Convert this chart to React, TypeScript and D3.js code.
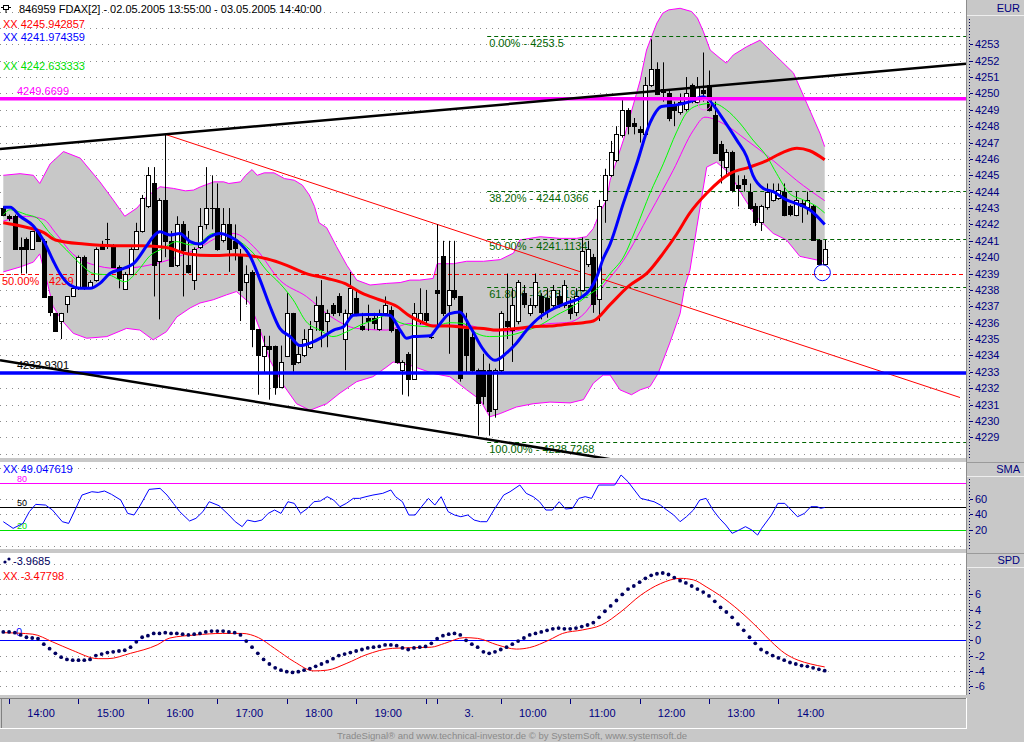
import React from 'react';
import * as d3 from 'd3';

// ---- price bars (5 min) ----
const opens = [
  4243.0, 4242.5, 4242.5, 4240.6, 4241.1, 4240.5, 4241.6, 4241.0, 4237.6, 4236.6,
  4236.1, 4237.1, 4237.6, 4238.1, 4240.0, 4238.2, 4238.6, 4240.7, 4241.1, 4240.7,
  4239.4, 4238.1, 4239.0, 4240.5, 4241.6, 4243.1, 4244.5, 4239.8, 4243.5, 4241.0,
  4239.5, 4242.0, 4239.5, 4238.6, 4240.6, 4242.0, 4243.0, 4243.0, 4241.05, 4242.0,
  4241.0, 4240.1, 4238.5, 4239.1, 4235.6, 4234.0, 4234.6, 4234.6, 4232.1, 4234.0,
  4236.6, 4233.6, 4234.0, 4234.5, 4236.1, 4237.1, 4236.1, 4237.1, 4237.6, 4235.0,
  4236.6, 4237.5, 4235.8, 4236.3, 4236.3, 4235.6, 4236.6, 4236.8, 4235.6, 4233.1,
  4234.1, 4232.6, 4236.1, 4236.6, 4235.15, 4238.0, 4240.1, 4237.1, 4238.0, 4237.6,
  4235.6, 4235.1, 4233.1, 4233.1, 4233.1, 4230.7, 4233.1, 4236.1, 4235.6, 4236.1,
  4237.8, 4236.6, 4237.1, 4237.6, 4237.5, 4237.1, 4237.6, 4237.1, 4237.1, 4236.6,
  4238.0, 4239.6, 4240.0, 4237.4, 4243.5, 4245.0, 4245.9, 4247.5, 4249.0, 4248.2,
  4247.8, 4247.5, 4250.5, 4251.5, 4250.3, 4250.0, 4249.3, 4248.9, 4249.0, 4250.5,
  4249.5, 4250.2, 4250.5, 4248.7, 4246.9, 4245.5, 4246.4, 4244.4, 4244.8, 4244.0,
  4243.1, 4242.1, 4243.1, 4243.5, 4243.6, 4244.0, 4243.1, 4242.6, 4243.3, 4243.1,
  4243.1, 4241.05, 4239.6,
];
const highs = [
  4243.1, 4242.6, 4242.6, 4241.2, 4241.2, 4241.6, 4241.6, 4241.1, 4237.6, 4236.6,
  4236.6, 4237.6, 4238.2, 4240.1, 4240.1, 4238.6, 4240.6, 4241.0, 4242.1, 4240.8,
  4239.5, 4239.1, 4240.6, 4242.1, 4243.8, 4245.5, 4245.5, 4243.6, 4247.5, 4241.6,
  4242.5, 4242.2, 4241.6, 4240.6, 4243.0, 4245.5, 4245.0, 4244.5, 4243.0, 4243.0,
  4242.0, 4240.5, 4239.5, 4239.2, 4235.6, 4235.2, 4235.2, 4234.6, 4234.6, 4237.8,
  4236.6, 4234.6, 4235.6, 4236.1, 4237.6, 4238.6, 4236.8, 4237.2, 4237.8, 4236.8,
  4239.1, 4238.0, 4236.6, 4237.1, 4236.6, 4236.8, 4237.6, 4237.0, 4235.6, 4233.7,
  4234.2, 4237.2, 4238.1, 4238.0, 4235.2, 4242.0, 4241.0, 4241.0, 4241.0, 4237.6,
  4236.6, 4235.5, 4233.2, 4234.1, 4233.5, 4233.2, 4236.7, 4239.0, 4238.1, 4238.6,
  4238.3, 4237.5, 4239.0, 4237.8, 4238.1, 4238.3, 4238.0, 4238.6, 4237.5, 4238.1,
  4241.2, 4241.0, 4240.2, 4243.5, 4245.4, 4247.1, 4248.0, 4249.6, 4249.1, 4248.5,
  4248.0, 4251.0, 4253.3, 4251.9, 4251.9, 4250.2, 4249.5, 4250.0, 4251.0, 4250.6,
  4251.0, 4252.5, 4251.4, 4249.5, 4247.1, 4246.6, 4246.5, 4245.0, 4245.0, 4244.5,
  4243.3, 4243.2, 4244.5, 4244.5, 4244.5, 4244.5, 4243.2, 4244.0, 4243.5, 4244.0,
  4243.2, 4241.1, 4241.05,
];
const lows = [
  4242.5, 4242.2, 4240.5, 4239.0, 4239.0, 4240.5, 4241.0, 4237.6, 4236.4, 4235.5,
  4235.0, 4236.6, 4237.6, 4238.0, 4238.0, 4238.1, 4238.5, 4240.5, 4240.5, 4239.4,
  4238.1, 4238.0, 4239.0, 4240.5, 4241.5, 4243.0, 4237.6, 4236.2, 4240.0, 4239.4,
  4239.4, 4237.6, 4239.0, 4238.0, 4240.5, 4241.7, 4241.7, 4240.4, 4240.9, 4239.1,
  4239.8, 4236.1, 4237.1, 4234.5, 4231.6, 4232.9, 4231.3, 4231.6, 4232.0, 4233.9,
  4233.0, 4233.5, 4233.9, 4234.4, 4235.5, 4234.5, 4234.5, 4236.4, 4236.4, 4233.1,
  4236.4, 4236.4, 4235.5, 4235.5, 4235.6, 4235.5, 4236.4, 4235.4, 4233.5, 4231.6,
  4231.5, 4232.5, 4235.9, 4235.9, 4235.0, 4235.8, 4236.4, 4234.1, 4237.4, 4232.4,
  4232.9, 4233.0, 4229.1, 4231.0, 4229.1, 4230.2, 4232.9, 4235.0, 4233.6, 4235.9,
  4236.9, 4236.4, 4236.9, 4236.2, 4236.3, 4236.9, 4236.9, 4236.9, 4236.2, 4236.4,
  4237.9, 4239.4, 4236.6, 4236.1, 4242.1, 4244.9, 4245.8, 4247.3, 4247.5, 4247.5,
  4247.0, 4247.4, 4250.4, 4249.9, 4249.5, 4248.3, 4248.0, 4248.7, 4248.9, 4249.4,
  4249.4, 4249.5, 4248.9, 4246.3, 4244.5, 4245.0, 4244.0, 4243.1, 4244.0, 4242.9,
  4241.9, 4241.6, 4242.9, 4243.4, 4243.5, 4242.5, 4242.5, 4242.5, 4242.1, 4242.6,
  4241.0, 4239.5, 4239.5,
];
const closes = [
  4242.6, 4242.4, 4240.5, 4240.5, 4240.5, 4241.6, 4241.0, 4237.6, 4236.6, 4235.5,
  4236.6, 4237.6, 4238.1, 4240.0, 4238.2, 4238.5, 4240.5, 4240.5, 4241.05, 4239.4,
  4238.7, 4239.0, 4240.5, 4241.6, 4243.6, 4245.0, 4239.5, 4243.5, 4241.0, 4239.5,
  4242.0, 4240.4, 4239.1, 4240.5, 4241.9, 4243.0, 4242.95, 4240.5, 4242.0, 4240.5,
  4240.6, 4238.0, 4239.0, 4235.6, 4234.0, 4234.6, 4234.4, 4232.1, 4233.6, 4236.6,
  4233.5, 4234.1, 4235.0, 4235.6, 4237.1, 4235.6, 4236.6, 4236.6, 4236.6, 4236.6,
  4238.1, 4236.6, 4235.6, 4236.1, 4236.0, 4236.6, 4237.1, 4235.6, 4233.6, 4233.6,
  4232.6, 4236.6, 4236.6, 4236.2, 4235.1, 4237.8, 4236.6, 4238.0, 4237.6, 4232.6,
  4234.0, 4233.1, 4231.1, 4231.5, 4230.6, 4233.1, 4236.6, 4235.8, 4237.1, 4238.5,
  4237.1, 4237.1, 4238.5, 4236.6, 4236.7, 4238.0, 4237.1, 4238.3, 4236.6, 4237.6,
  4240.4, 4240.5, 4237.1, 4243.1, 4245.0, 4246.4, 4247.5, 4249.0, 4248.0, 4248.0,
  4247.6, 4250.5, 4251.5, 4250.0, 4250.1, 4248.5, 4249.0, 4249.5, 4250.0, 4249.5,
  4250.4, 4250.0, 4249.0, 4246.4, 4245.9, 4246.4, 4244.1, 4244.2, 4244.5, 4243.0,
  4242.1, 4243.1, 4244.0, 4244.0, 4244.1, 4242.6, 4242.6, 4243.5, 4243.1, 4243.5,
  4241.05, 4239.6, 4240.5,
];

// ---- overlays, [bar, price] ----
const redMa = [
  [0, 4242.1], [3, 4241.9], [7, 4241.5], [9, 4241.05], [14, 4240.8], [19, 4240.7], [24, 4240.7],
  [28, 4240.6], [32, 4240.2], [36, 4240.1], [40, 4240.15], [45.5, 4239.9], [49, 4239.5],
  [52.4, 4239.0], [56, 4238.7], [59, 4238.4], [62, 4237.8], [65, 4237.4], [68, 4237.0],
  [70.3, 4236.4], [72, 4236.1], [74.3, 4235.8], [77, 4235.8], [80, 4235.7], [83, 4235.65],
  [85.3, 4235.55], [88.7, 4235.65], [91.6, 4235.75], [94.5, 4235.8], [97.4, 4235.9],
  [100.3, 4236.0], [102, 4236.1], [104.9, 4237.1], [108, 4238.2], [111.5, 4239.1],
  [114, 4240.2], [116.4, 4241.4], [118.7, 4242.7], [121.6, 4243.9], [125.6, 4245.1],
  [129, 4245.5], [132, 4245.9], [134.8, 4246.4], [137.2, 4246.65], [139.4, 4246.5], [142, 4245.95],
];
const blueMa = [
  [0, 4243.05], [1.2, 4243.05], [2.9, 4242.5], [5.2, 4241.9], [6.9, 4241.05], [8.6, 4239.8],
  [9.8, 4239.0], [11.5, 4238.3], [13.3, 4238.1], [15, 4238.1], [16.7, 4238.4], [18.4, 4239.0],
  [20.7, 4239.3], [22.5, 4239.6], [24.8, 4240.7], [25.9, 4241.25], [27.1, 4241.55], [28.8, 4241.35],
  [30.5, 4241.45], [32.3, 4240.95], [34, 4240.8], [35.7, 4241.25], [37.5, 4241.45], [39.2, 4241.25],
  [40.9, 4240.85], [42.6, 4240.1], [44.4, 4238.6], [46.1, 4237.0], [47.8, 4235.65], [49.6, 4235.15],
  [51.3, 4234.6], [53, 4234.75], [55.3, 4235.15], [57.1, 4235.55], [58.8, 4235.75], [60.5, 4236.45],
  [62.8, 4236.5], [65.1, 4236.5], [66.8, 4236.45], [68.6, 4235.55], [69.7, 4235.05], [70.9, 4235.15],
  [73.8, 4235.2], [74.9, 4235.65], [77.2, 4236.55], [78.9, 4236.65], [80.7, 4235.75], [83, 4234.35],
  [85, 4233.7], [87, 4234.15], [88.7, 4234.75], [90.5, 4235.55], [92.8, 4236.35], [95.1, 4236.85],
  [97.4, 4237.2], [99.7, 4237.5], [101.4, 4238.0], [102.6, 4238.8], [103.7, 4239.9], [104.9, 4240.8],
  [107.2, 4243.3], [109.5, 4245.7], [111.8, 4248.2], [113.8, 4249.2], [116.4, 4249.3], [118.7, 4249.5],
  [121, 4249.8], [122.7, 4249.3], [124.5, 4248.4], [126.8, 4247.15], [128.5, 4246.15], [129.6, 4245.0],
  [131.4, 4244.2], [133.1, 4244.0], [135.4, 4243.5], [137.7, 4243.2], [139.4, 4242.9], [142, 4242.0],
];
const greenMa = [
  [0, 4242.6], [1.2, 4242.9], [4, 4242.6], [5.8, 4242.4], [8.1, 4241.45], [10.9, 4240.45],
  [13.3, 4239.6], [15.6, 4239.0], [18.4, 4238.9], [21, 4238.5], [23.1, 4239.1], [25.4, 4240.1],
  [27.7, 4240.55], [30, 4240.95], [32.3, 4240.75], [34, 4240.9], [36.3, 4241.45], [38.6, 4241.35],
  [40.9, 4240.95], [43.2, 4240.25], [45.5, 4239.2], [47.8, 4238.4], [50.1, 4237.4], [52.4, 4236.05],
  [54.7, 4235.55], [57, 4235.15], [59.4, 4235.45], [61.7, 4235.85], [64, 4236.15], [66.3, 4236.45],
  [68.6, 4236.0], [71.5, 4235.8], [74.3, 4235.75], [77.2, 4236.0], [79.5, 4235.95], [81.8, 4235.35],
  [84.1, 4235.15], [87, 4235.2], [89.9, 4235.45], [92.8, 4235.85], [95.6, 4236.45], [98.5, 4237.0],
  [100.8, 4237.6], [103.1, 4238.2], [104.9, 4239.0], [107.2, 4240.0], [109.5, 4241.85], [111.8, 4243.9],
  [114.1, 4245.7], [116.4, 4247.65], [118.1, 4248.8], [120.4, 4249.3], [122.7, 4249.4], [125, 4249.0],
  [127.3, 4248.2], [129.6, 4247.15], [132, 4246.15], [133.7, 4245.1], [135.9, 4243.9], [138.3, 4243.5],
  [140.6, 4243.1], [142, 4242.7],
];
const midBand = [
  [0, 4242.2], [4, 4242.5], [7, 4242.3], [9, 4241.5], [12, 4240.2], [15, 4239.6], [20, 4239.3],
  [25, 4239.5], [30, 4240.0], [34, 4240.6], [37, 4241.2], [39.8, 4241.45], [43.8, 4240.45],
  [47.8, 4238.6], [52.4, 4237.6], [56.5, 4236.4], [61.1, 4235.65], [66.3, 4235.55], [70.3, 4235.95],
  [74.3, 4235.85], [80.1, 4235.85], [83.6, 4235.55], [87.6, 4235.45], [91.6, 4235.75], [94.5, 4235.95],
  [97.4, 4236.0], [100.8, 4236.7], [103.1, 4237.95], [107.2, 4239.8], [111.8, 4242.7], [115.8, 4245.3],
  [119.3, 4247.75], [121.3, 4248.55], [124.5, 4248.15], [128.5, 4247.15], [133.1, 4245.9],
  [137.1, 4244.7], [142, 4243.45],
];
const upperBand = [
  [0, 4245.0], [2.9, 4245.1], [5.2, 4245.0], [6.3, 4244.5], [8.1, 4245.7], [10.4, 4246.45],
  [13.3, 4246.05], [16.7, 4244.6], [19, 4243.5], [21, 4242.5], [23.1, 4243.0], [24.8, 4243.7],
  [27.1, 4244.3], [29.4, 4244.2], [31.5, 4244.05], [32.9, 4244.1], [34.1, 4244.3], [36.4, 4244.6],
  [38.1, 4244.6], [39, 4244.5], [41, 4244.6], [41.9, 4245.0], [43, 4245.35], [43.9, 4245.0],
  [45.1, 4245.15], [46.8, 4245.15], [48.6, 4244.8], [50.3, 4244.7], [51.7, 4244.4], [52.9, 4243.8],
  [53.8, 4243.1], [54.6, 4242.1], [55.9, 4241.8], [57.6, 4240.65], [59.4, 4239.5], [61.1, 4238.6],
  [63.4, 4238.3], [66.3, 4238.4], [68.6, 4238.45], [70.3, 4238.6], [72, 4238.6], [74.3, 4238.7],
  [75, 4239.6], [77.8, 4239.6], [80.1, 4239.75], [83, 4239.75], [85.9, 4239.85], [88.2, 4240.25],
  [89.3, 4241.05], [92.8, 4241.25], [96.2, 4241.15], [99.1, 4241.15], [100.8, 4241.25], [102, 4241.75],
  [103.1, 4242.7], [104.3, 4243.5], [104.9, 4244.7], [107.2, 4247.15], [110.1, 4250.8], [111.2, 4252.65],
  [112, 4253.4], [113, 4254.3], [114, 4254.9], [115, 4255.1], [117, 4255.2], [119, 4255.0],
  [120, 4254.6], [121, 4253.8], [122.2, 4252.65], [123.9, 4252.15], [125, 4251.85], [126.2, 4252.35],
  [128.5, 4252.85], [130.8, 4253.25], [133.7, 4252.25], [136.6, 4251.25], [138.9, 4249.4],
  [141.2, 4247.55], [142, 4246.75],
];
const lowerBand = [
  [0, 4239.1], [2.9, 4239.4], [5.2, 4239.7], [6.3, 4240.2], [7.5, 4238.6], [8.6, 4237.0],
  [10.1, 4236.15], [12.1, 4235.35], [14.4, 4235.05], [17.9, 4235.15], [21.3, 4235.65], [23.6, 4235.55],
  [25.9, 4234.95], [28.2, 4235.45], [30, 4236.35], [32.3, 4236.9], [34, 4237.2], [36.3, 4237.4],
  [38.6, 4237.7], [40.3, 4237.9], [42.6, 4237.2], [44.4, 4235.55], [46.1, 4233.7], [48.4, 4232.2],
  [50.7, 4231.05], [53, 4230.65], [55.9, 4231.05], [58.2, 4231.7], [61.1, 4232.4], [63.9, 4232.7],
  [66.3, 4233.3], [67.4, 4233.6], [70.3, 4233.4], [74.3, 4232.9], [77.2, 4232.7], [80.1, 4231.9],
  [82.4, 4231.3], [84.1, 4230.25], [85.9, 4230.45], [88.7, 4230.85], [91.6, 4231.05], [94.5, 4231.15],
  [98, 4231.1], [100.3, 4231.3], [102, 4232.3], [103.7, 4232.8], [104.9, 4232.8], [106.6, 4231.9],
  [108.6, 4231.6], [110.1, 4231.9], [111.8, 4232.1], [113.2, 4232.9], [115.2, 4234.75], [117, 4236.55],
  [117.8, 4238.2], [118.7, 4239.2], [119.9, 4241.85], [121.6, 4245.5], [123.3, 4245.8], [125.6, 4245.1],
  [127.9, 4243.7], [130.2, 4242.45], [133.1, 4241.45], [135.4, 4241.05], [137.7, 4240.05],
  [141.7, 4239.75], [142, 4239.75],
];

const upperTrend = [[28, 4247.5], [121, 4250.4]];
const lowerTrend = [[51, 4230.75], [84, 4228.86]];
const redTrend = [[28, 4247.5], [140, 4234.4]];

const fibPercents = ['0.00%', '38.20%', '50.00%', '61.80%', '100.00%'];
const fibValues = [4253.5, 4244.0366, 4241.1134, 4238.1902, 4228.7268];
const fibStartBar = 84;

const resistance = 4249.6699;
const support = 4232.9301;
const halfLevel = 4239;
const lastLow = [141.6, 4239.05];
const peakMark = [121.2, 4249.3];

const priceTicks = d3.range(4229, 4254);
const priceGrid = d3.range(4228, 4256);

// ---- SMA oscillator ----
const smaLine = [
  [0, 30.7], [1.7, 22.1], [3.4, 28.5], [4.5, 43.6], [5.6, 53], [7.3, 52.1], [8.5, 45.7], [10.2, 30.7],
  [11.3, 28.5], [12.4, 45.7], [13.6, 65], [15.3, 69.3], [16.4, 68.4], [17.5, 70.2], [18.7, 65.9],
  [20.3, 58.6], [21.5, 41.4], [22.6, 39.3], [23.7, 52.1], [25.2, 72.3], [27.1, 73.6], [28.3, 65],
  [29.4, 54.3], [30.5, 43.6], [32.2, 31.6], [33.3, 35], [34.5, 43.6], [35.6, 56.4], [37.3, 51.3],
  [39, 39.3], [40.1, 30.7], [41.3, 24.3], [42.2, 32.8], [43.5, 30.7], [44.7, 32.8], [45.8, 41.4],
  [46.9, 45.7], [48, 41.4], [49.2, 56.4], [50.3, 54.3], [51.4, 41.4], [52.6, 47.9], [53.7, 56.4],
  [54.8, 57.3], [56, 62.9], [57.1, 58.6], [58.2, 50], [59.3, 54.3], [60.5, 60.7], [61.6, 60.7],
  [62.7, 62.9], [63.9, 65], [65.6, 67.2], [67, 71.5], [67.8, 62.9], [69, 56.4], [70.1, 39.3],
  [71.2, 39.3], [72.3, 50], [73.5, 60.7], [74.6, 52.1], [75.7, 62.9], [76.9, 43.6], [78, 39.3],
  [79.1, 37.1], [80.3, 39.3], [81.4, 32.8], [82.5, 30.7], [83.6, 30.7], [84.8, 45.7], [86.5, 65],
  [87.6, 69.3], [89.3, 77.9], [90.4, 67.2], [91.6, 62.9], [92.7, 56.4], [93.8, 45.7], [94.9, 45.7],
  [96.1, 56.4], [97.2, 47], [98.4, 47.9], [99.5, 60.7], [100.6, 62.9], [101.7, 60.7], [102.9, 77.9],
  [105.7, 77.9], [106.8, 90.8], [108, 82.2], [109.1, 71.5], [110.2, 60.7], [112.5, 56.4], [113.6, 52.1],
  [114.7, 45.7], [115.9, 39.3], [117, 30.7], [118.1, 37.1], [119.3, 45.7], [120.4, 58.6], [121.5, 60.7],
  [122.7, 45.7], [123.8, 35], [124.9, 26.4], [126, 15.7], [127.2, 20], [128.3, 24.3], [129.4, 20],
  [130.4, 13.5], [131.1, 22.1], [132.8, 39.3], [133.9, 54.3], [135.1, 54.3], [136.2, 45.7],
  [137.3, 37.1], [138.5, 41.4], [139.6, 50], [140.7, 50], [141.3, 47.9], [142, 49.05],
];
const smaLevels = [80, 50, 20];
const smaLevelColors = ['#ff00ff', '#000000', '#00e000'];
const smaGrid = [100, 60, 40, 0];
const smaTicks = [60, 40, 20];

// ---- SPD ----
const spdDots = [
  1.1, 1.1, 1.0, 0.7, 0.4, 0.3, 0.2, -0.5, -1.1, -1.7,
  -2.2, -2.5, -2.6, -2.6, -2.6, -2.5, -2.0, -1.8, -1.6, -1.5,
  -1.4, -1.3, -0.9, -0.2, 0.4, 0.6, 0.9, 0.9, 1.0, 0.9,
  0.9, 0.8, 0.7, 0.8, 0.9, 1.1, 1.2, 1.2, 1.2, 1.1,
  1.0, 0.7, -0.1, -0.9, -1.7, -2.5, -3.1, -3.6, -3.9, -4.1,
  -4.2, -4.1, -3.9, -3.7, -3.4, -3.1, -2.8, -2.4, -2.0, -1.8,
  -1.6, -1.4, -1.2, -1.0, -0.9, -0.8, -0.6, -0.6, -0.7, -1.0,
  -1.2, -1.0, -0.9, -0.8, -0.4, 0.2, 0.6, 0.8, 0.9, 0.7,
  0.0, -0.5, -0.9, -1.5, -1.7, -1.5, -1.2, -0.9, -0.5, -0.1,
  0.3, 0.7, 0.9, 1.1, 1.3, 1.5, 1.6, 1.5, 1.5, 1.6,
  1.8, 2.0, 2.3, 3.0, 3.8, 4.5, 5.2, 6.0, 6.7, 7.1,
  7.6, 8.1, 8.5, 8.7, 8.8, 8.6, 8.2, 7.8, 7.5, 7.1,
  6.7, 6.3, 5.8, 5.1, 4.3, 3.7, 3.0, 2.1, 1.3, 0.4,
  -0.4, -1.2, -1.6, -2.0, -2.3, -2.6, -2.9, -3.1, -3.3, -3.4,
  -3.6, -3.8, -3.97,
];
const spdSignal = [
  [0, 1.0], [5.1, 0.8], [8.5, -0.2], [11.9, -1.3], [16.4, -2.4], [18.1, -2.4], [22, -1.7],
  [26.6, -0.6], [28.8, 0.3], [33.3, 0.7], [37.9, 0.9], [41.3, 0.9], [44.1, 0.35], [46.9, -1.05],
  [50.3, -2.8], [53.7, -4.0], [56, -3.9], [59.4, -3.0], [62.7, -1.9], [67.3, -1.05], [71.8, -0.95],
  [74, -0.9], [76.3, -0.4], [79.7, 0.35], [82, 0.25], [85.4, -0.6], [88.7, -1.15], [91, -0.95],
  [94.4, 0.05], [96.7, 0.9], [100.1, 1.35], [103.4, 2.0], [106.8, 3.75], [110.2, 5.9], [113.6, 7.4],
  [117, 8.1], [119.3, 7.9], [121.5, 7.0], [123.8, 5.9], [127.2, 3.9], [130.6, 1.5], [132.8, -0.2],
  [135.1, -1.7], [137.4, -2.6], [139.6, -3.1], [142, -3.48],
];
const spdGrid = [10, 8, 6, 4, 2, -2, -4, -6];
const spdTicks = [6, 4, 2, 0, -2, -4, -6];

// ---- time axis ----
const timeTickBars = [1, 13, 25, 37, 49, 61, 73, 75, 86, 98, 110, 122, 134];
const timeLabels = ['14:00', '15:00', '16:00', '17:00', '18:00', '19:00', '', '3.', '10:00', '11:00', '12:00', '13:00', '14:00'];

const title = '846959  FDAX[2] - 02.05.2005 13:55:00 - 03.05.2005 14:40:00';
const legendMain = [
  { text: '4245.942857', color: '#ff0000', yy: 27.5 },
  { text: '4241.974359', color: '#0000ff', yy: 41 },
  { text: '4242.633333', color: '#00dd00', yy: 69.5 },
];
const smaLegend = '49.047619';
const spdLegend = ['-3.9685', '-3.47798'];

const FONT = "'Liberation Sans', Arial, sans-serif";
const GRAY = '#c8c8c8';
const PW = 966;

export default function App() {
  const x = d3.scaleLinear().domain([0, 142]).range([3.3, 824.7]);
  const y = d3.scaleLinear().domain([4229, 4253]).range([437.3, 44.3]);
  const ySma = d3.scaleLinear().domain([20, 80]).range([530, 483.4]);
  const ySpd = d3.scaleLinear().domain([-6, 6]).range([686.2, 594.4]);

  const priceLine = (curve) =>
    d3.line().x((d) => x(d[0])).y((d) => y(d[1])).curve(curve);
  const smooth = priceLine(d3.curveMonotoneX);
  const straight = priceLine(d3.curveLinear);

  const bandPath = straight([...upperBand, ...lowerBand.slice().reverse()]) + 'Z';

  const extend = (pts, xFrom, xTo) => {
    const x1 = x(pts[0][0]), y1 = y(pts[0][1]);
    const x2 = x(pts[1][0]), y2 = y(pts[1][1]);
    const k = (y2 - y1) / (x2 - x1);
    return { x1: xFrom, y1: y1 + k * (xFrom - x1), x2: xTo, y2: y1 + k * (xTo - x1) };
  };
  const ut = extend(upperTrend, 0, PW);
  const lt = extend(lowerTrend, 0, PW);
  const rt = extend(redTrend, x(redTrend[0][0]), 960);

  const smaPath = d3.line().x((d) => x(d[0])).y((d) => ySma(d[1]))(smaLine);
  const spdPath = d3.line().x((d) => x(d[0])).y((d) => ySpd(d[1])).curve(d3.curveMonotoneX)(spdSignal);

  const crisp = (v) => Math.round(v) + 0.5;

  return (
    <svg width={1024} height={742} style={{ position: 'absolute', left: 0, top: 0, display: 'block' }}
      fontFamily={FONT}>
      <defs>
        <clipPath id="mainClip"><rect x={0} y={0} width={PW} height={458} /></clipPath>
        <clipPath id="smaClip"><rect x={0} y={462} width={PW} height={87} /></clipPath>
        <clipPath id="spdClip"><rect x={0} y={553} width={PW} height={142} /></clipPath>
      </defs>
      <rect x={0} y={0} width={1024} height={742} fill={GRAY} />

      {/* ===== main panel ===== */}
      <rect x={0} y={0} width={PW} height={458} fill="#fff" />
      <g clipPath="url(#mainClip)">
        {priceGrid.map((p) => (
          <line key={p} x1={0} x2={PW} y1={crisp(y(p))} y2={crisp(y(p))} stroke="#8c8c8c" strokeDasharray="1,5" />
        ))}
        <path d={bandPath} fill={GRAY} stroke="none" />
        <path d={straight(upperBand)} fill="none" stroke="#ff00ff" strokeWidth={1} />
        <path d={straight(lowerBand)} fill="none" stroke="#ff00ff" strokeWidth={1} />
        <path d={smooth(midBand)} fill="none" stroke="#ff00ff" strokeWidth={1} />

        <line x1={0} x2={PW} y1={crisp(y(halfLevel))} y2={crisp(y(halfLevel))} stroke="#ff0000" strokeDasharray="4,3" />
        {fibValues.map((v, i) => (
          <line key={i} x1={x(fibStartBar) - 2} x2={PW} y1={crisp(y(v))} y2={crisp(y(v))} stroke="#006400" strokeDasharray="4,3" />
        ))}
        {fibValues.map((v, i) => (
          <text key={i} x={x(fibStartBar)} y={y(v) + 11} fontSize={11} fill="#006400">
            {fibPercents[i]} - {v}
          </text>
        ))}
        <text x={2} y={y(halfLevel) + 11.5} fontSize={11} fill="#ff0000">50.00% - {halfLevel}</text>

        <line {...rt} stroke="#ff0000" strokeWidth={1} />

        {opens.map((o, i) => {
          const c = closes[i];
          const cx = crisp(x(i));
          const top = y(Math.max(o, c));
          const bot = y(Math.min(o, c));
          const up = c >= o;
          return (
            <g key={i}>
              <line x1={cx} x2={cx} y1={y(highs[i])} y2={y(lows[i])} stroke="#000" strokeWidth={1} />
              {bot - top < 1.5 ? (
                <line x1={cx - 2.5} x2={cx + 2.5} y1={crisp(top)} y2={crisp(top)} stroke="#000" />
              ) : (
                <rect x={cx - 2} y={Math.round(top) + 0.5} width={4} height={Math.max(1, Math.round(bot - top))}
                  fill={up ? '#fff' : '#000'} stroke="#000" strokeWidth={1} />
              )}
            </g>
          );
        })}

        <path d={smooth(greenMa)} fill="none" stroke="#00ff00" strokeWidth={1} />
        <path d={smooth(redMa)} fill="none" stroke="#ff0000" strokeWidth={3} />
        <path d={smooth(blueMa)} fill="none" stroke="#0000ff" strokeWidth={3} />

        <line x1={0} x2={PW} y1={y(resistance)} y2={y(resistance)} stroke="#ff00ff" strokeWidth={3.5} />
        <line x1={0} x2={PW} y1={y(support)} y2={y(support)} stroke="#0000ff" strokeWidth={3.5} />
        <line {...ut} stroke="#000" strokeWidth={2.5} />
        <line {...lt} stroke="#000" strokeWidth={2.5} />

        <ellipse cx={x(peakMark[0])} cy={y(peakMark[1])} rx={6} ry={5} fill="none" stroke="#ff66ff" strokeWidth={1} />
        <circle cx={x(lastLow[0])} cy={y(lastLow[1])} r={8} fill="none" stroke="#0000ff" strokeWidth={1} />

        <text x={17} y={y(resistance) - 4} fontSize={11} fill="#ff00ff">{resistance}</text>
        <text x={17} y={y(support) - 4} fontSize={11} fill="#000000">{support}</text>

        {/* legend */}
        <g stroke="#000" fill="none" strokeWidth={1}>
          <rect x={3.5} y={5.5} width={5} height={4} />
          <line x1={6} x2={6} y1={9.5} y2={13} />
          <line x1={1} x2={3.5} y1={7.5} y2={7.5} />
          <line x1={8.5} x2={11} y1={7.5} y2={7.5} />
        </g>
        <text x={19} y={13} fontSize={11} fill="#000">{title}</text>
        {legendMain.map((l, i) => (
          <text key={i} x={3} y={l.yy} fontSize={11} fill={l.color}>XX {l.text}</text>
        ))}
      </g>

      {/* main price axis */}
      <line x1={966.5} x2={966.5} y1={0} y2={695} stroke="#8c8c8c" />
      <line x1={967} x2={1024} y1={15.5} y2={15.5} stroke="#eeeeee" />
      <text x={1020} y={12} fontSize={11} fill="#000080" textAnchor="end">EUR</text>
      <line x1={969.5} x2={969.5} y1={19} y2={458} stroke="#000050" strokeDasharray="1,2" />
      {priceTicks.map((p) => (
        <g key={p}>
          <line x1={970} x2={973} y1={crisp(y(p))} y2={crisp(y(p))} stroke="#000080" />
          <text x={975} y={y(p) + 4} fontSize={11} fill="#000080">{p}</text>
        </g>
      ))}

      {/* ===== SMA panel ===== */}
      <rect x={0} y={462} width={PW} height={87} fill="#fff" />
      <g clipPath="url(#smaClip)">
        {smaGrid.map((v) => (
          <line key={v} x1={0} x2={PW} y1={crisp(ySma(v))} y2={crisp(ySma(v))} stroke="#8c8c8c" strokeDasharray="1,5" />
        ))}
        {smaLevels.map((v, i) => (
          <line key={v} x1={0} x2={PW} y1={crisp(ySma(v))} y2={crisp(ySma(v))} stroke={smaLevelColors[i]} />
        ))}
        {smaLevels.map((v, i) => (
          <text key={v} x={17} y={ySma(v) - 1} fontSize={9} fill={smaLevelColors[i]}>{v}</text>
        ))}
        <path d={smaPath} fill="none" stroke="#0000ff" strokeWidth={1} />
        <text x={3} y={472.5} fontSize={11} fill="#0000ff">XX {smaLegend}</text>
      </g>
      <line x1={967} x2={1024} y1={476.5} y2={476.5} stroke="#eeeeee" />
      <line x1={966} x2={1024} y1={462.5} y2={462.5} stroke="#9a9a9a" />
      <text x={1020} y={473} fontSize={11} fill="#000080" textAnchor="end">SMA</text>
      <line x1={969.5} x2={969.5} y1={479} y2={549} stroke="#000050" strokeDasharray="1,2" />
      {smaTicks.map((v) => (
        <g key={v}>
          <line x1={970} x2={973} y1={crisp(ySma(v))} y2={crisp(ySma(v))} stroke="#000080" />
          <text x={975} y={ySma(v) + 4} fontSize={11} fill="#000080">{v}</text>
        </g>
      ))}

      {/* ===== SPD panel ===== */}
      <rect x={0} y={553} width={PW} height={142} fill="#fff" />
      <g clipPath="url(#spdClip)">
        {spdGrid.map((v) => (
          <line key={v} x1={0} x2={PW} y1={crisp(ySpd(v))} y2={crisp(ySpd(v))} stroke="#8c8c8c" strokeDasharray="1,5" />
        ))}
        <line x1={0} x2={PW} y1={crisp(ySpd(0))} y2={crisp(ySpd(0))} stroke="#0000ff" />
        <text x={16} y={ySpd(0) - 4} fontSize={11} fill="#0000ff">0</text>
        <path d={spdPath} fill="none" stroke="#ff0000" strokeWidth={1} />
        {spdDots.map((v, i) => (
          <circle key={i} cx={x(i)} cy={ySpd(v)} r={1.9} fill="#000060" />
        ))}
        <circle cx={5} cy={562} r={1.6} fill="#000060" />
        <circle cx={9} cy={559} r={1.6} fill="#000060" />
        <text x={13} y={565} fontSize={11} fill="#000060">{spdLegend[0]}</text>
        <text x={3} y={580} fontSize={11} fill="#ff0000">XX {spdLegend[1]}</text>
      </g>
      <line x1={967} x2={1024} y1={567.5} y2={567.5} stroke="#eeeeee" />
      <line x1={966} x2={1024} y1={553.5} y2={553.5} stroke="#9a9a9a" />
      <text x={1020} y={564} fontSize={11} fill="#000080" textAnchor="end">SPD</text>
      <line x1={969.5} x2={969.5} y1={570} y2={695} stroke="#000050" strokeDasharray="1,2" />
      {spdTicks.map((v) => (
        <g key={v}>
          <line x1={970} x2={973} y1={crisp(ySpd(v))} y2={crisp(ySpd(v))} stroke="#000080" />
          <text x={975} y={ySpd(v) + 4} fontSize={11} fill="#000080">{v}</text>
        </g>
      ))}

      {/* ===== time axis ===== */}
      <line x1={0} x2={PW} y1={698.5} y2={698.5} stroke="#808080" />
      <line x1={1.5} x2={1.5} y1={698} y2={729} stroke="#808080" />
      <line x1={0} x2={PW} y1={728.5} y2={728.5} stroke="#ffffff" />
      <line x1={966.5} x2={966.5} y1={698} y2={729} stroke="#ffffff" />
      {timeTickBars.map((b, i) => (
        <g key={i}>
          <line x1={crisp(x(b))} x2={crisp(x(b))} y1={699} y2={704} stroke="#000080" />
          {timeLabels[i] && (
            <text x={x(b) + 32} y={717} fontSize={11} fill="#000080" textAnchor="middle">{timeLabels[i]}</text>
          )}
        </g>
      ))}
      <text x={512} y={739} fontSize={9.5} fill="#8a8a8a" textAnchor="middle" textLength={350} lengthAdjust="spacingAndGlyphs">
        TradeSignal® and www.technical-investor.de © by SystemSoft, www.systemsoft.de
      </text>
    </svg>
  );
}
